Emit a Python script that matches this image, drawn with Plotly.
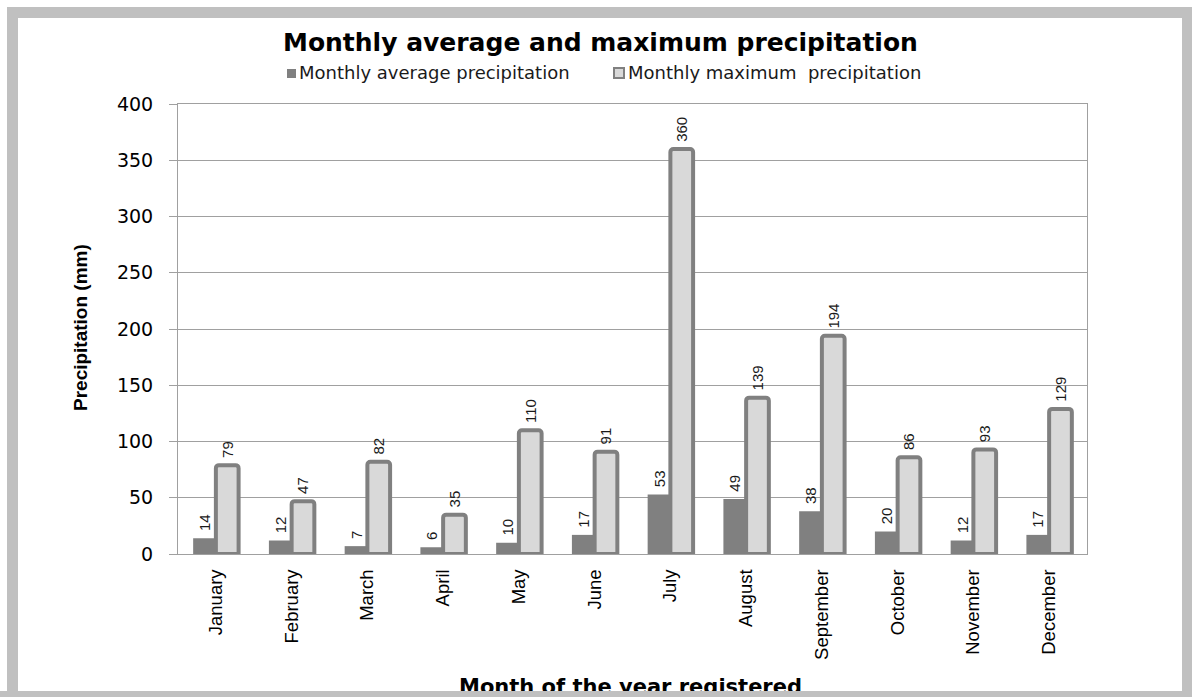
import plotly.graph_objects as go

# Monthly precipitation records (mm)
months = ["January", "February", "March", "April", "May", "June",
          "July", "August", "September", "October", "November", "December"]
avg_precip = [14, 12, 7, 6, 10, 17, 53, 49, 38, 20, 12, 17]
max_precip = [79, 47, 82, 35, 110, 91, 360, 139, 194, 86, 93, 129]
y_ticks = [0, 50, 100, 150, 200, 250, 300, 350, 400]

avg_name = "Monthly average precipitation"
max_name = "Monthly maximum\u00a0\u00a0precipitation"

# canvas and plot-area geometry (pixels)
W, H = 1192, 697
ML, MR, MT, MB = 178, 105, 104, 143
PW, PH = W - ML - MR, H - MT - MB


def px(x):
    """pixel column -> paper x"""
    return (x - ML) / PW


def py(y):
    """pixel row -> paper y"""
    return (H - MB - y) / PH


DARK = "#808080"
LIGHT = "#d9d9d9"
GRID = "#a0a0a0"
FRAME = "#c0c0c0"

label_font = dict(family="Liberation Sans", size=15, color="#1a1a1a")

fig = go.Figure()
fig.add_trace(go.Bar(
    x=months, y=avg_precip, name=avg_name,
    marker=dict(color=DARK, line=dict(width=0)),
    texttemplate="\u00a0%{y}", textposition="outside", textangle=-90,
    textfont=label_font, constraintext="none", cliponaxis=False,
    showlegend=False,
))
fig.add_trace(go.Bar(
    x=months, y=max_precip, name=max_name,
    marker=dict(color=LIGHT, line=dict(color=DARK, width=4), cornerradius=3),
    texttemplate="\u00a0%{y}", textposition="outside", textangle=-90,
    textfont=label_font, constraintext="none", cliponaxis=False,
    showlegend=False,
))

fig.update_layout(
    width=W, height=H,
    margin=dict(l=ML, r=MR, t=MT, b=MB, pad=0),
    paper_bgcolor="white", plot_bgcolor="white",
    barmode="group", bargap=0.4, bargroupgap=0,
    font=dict(family="Liberation Sans", color="black"),
)

fig.update_xaxes(
    type="category",
    showline=True, linecolor=GRID, linewidth=1, mirror=True,
    showgrid=False, ticks="", tickangle=-90,
    tickfont=dict(family="Liberation Sans", size=18.5, color="black"),
    ticklabelstandoff=7,
)
fig.update_yaxes(
    range=[0, 400], tickvals=y_ticks,
    showline=True, linecolor=GRID, linewidth=1, mirror=True,
    showgrid=True, gridcolor=GRID, gridwidth=1, zeroline=False,
    ticks="outside", ticklen=8, tickcolor=GRID,
    tickfont=dict(family="DejaVu Sans", size=19, color="black"),
    ticklabelstandoff=12,
)

annotations = [
    # chart title
    dict(text="<b>Monthly average and maximum precipitation</b>",
         x=px(600), y=py(43), xanchor="center", yanchor="middle",
         font=dict(family="DejaVu Sans", size=25, color="black")),
    # legend labels
    dict(text=avg_name, x=px(297), y=py(73), xanchor="left", yanchor="middle",
         font=dict(family="DejaVu Sans", size=18, color="#1a1a1a")),
    dict(text=max_name, x=px(626), y=py(73), xanchor="left", yanchor="middle",
         font=dict(family="DejaVu Sans", size=18, color="#1a1a1a")),
    # axis titles
    dict(text="<b>Precipitation (mm)</b>", textangle=-90,
         x=px(80), y=py(328), xanchor="center", yanchor="middle",
         font=dict(family="Liberation Sans", size=19, color="black")),
    dict(text="<b>Month of the year registered</b>",
         x=px(630), y=py(687), xanchor="center", yanchor="middle",
         font=dict(family="DejaVu Sans", size=21, color="black")),
    # bottom strip of the frame, drawn over the x-axis title
    dict(text=" ", width=W, height=7, bgcolor=FRAME, borderpad=0, borderwidth=0,
         x=px(W / 2), y=py(694), xanchor="center", yanchor="middle"),
]
for a in annotations:
    a.update(xref="paper", yref="paper", showarrow=False)
fig.update_layout(annotations=annotations)

shapes = [
    # outer grey frame
    dict(type="rect", x0=px(12.5), x1=px(1187.5), y0=py(12.5), y1=py(696.5),
         line=dict(color=FRAME, width=11), fillcolor="rgba(0,0,0,0)"),
    # legend keys
    dict(type="rect", x0=px(287), x1=px(296), y0=py(78), y1=py(69),
         line=dict(width=0), fillcolor=DARK),
    dict(type="rect", x0=px(614), x1=px(624), y0=py(78), y1=py(68),
         line=dict(color=DARK, width=2), fillcolor=LIGHT),
]
for s in shapes:
    s.update(xref="paper", yref="paper")
fig.update_layout(shapes=shapes)

fig.write_html("out.html")
